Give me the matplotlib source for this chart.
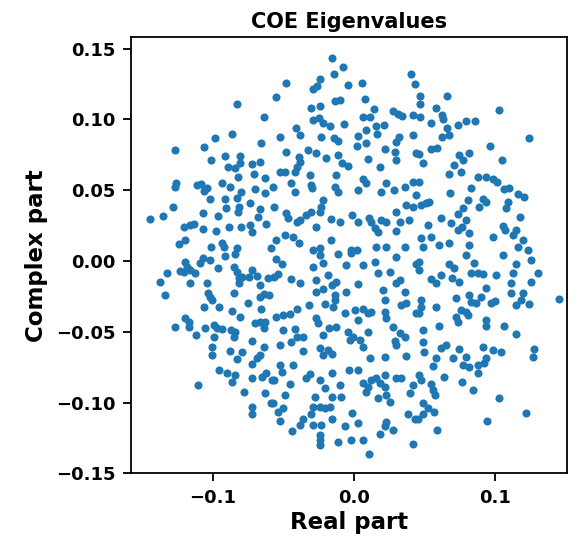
import matplotlib
matplotlib.use("Agg")
import matplotlib.pyplot as plt

title = "COE Eigenvalues"
xlabel = "Real part"
ylabel = "Complex part"
xticks = [-0.1, 0.0, 0.1]
yticks = [-0.15, -0.10, -0.05, 0.00, 0.05, 0.10, 0.15]

# (real, imaginary) pairs
points = [
    (-0.0832, 0.1110), (-0.0634, 0.1014), (-0.0863, 0.0896), (-0.0983, 0.0872),
    (-0.0155, 0.1436), (-0.0077, 0.1367), (-0.0143, 0.1320), (-0.0483, 0.1254),
    (-0.0237, 0.1289), (-0.0289, 0.1214), (-0.0261, 0.1233), (-0.0041, 0.1245),
    (0.0058, 0.1256), (-0.0554, 0.1155), (0.0077, 0.1145), (-0.0133, 0.1131),
    (-0.0096, 0.1138), (-0.0306, 0.1079), (-0.0242, 0.1094), (0.0143, 0.1075),
    (0.0065, 0.1020), (0.0112, 0.1020), (0.0277, 0.1060), (0.0313, 0.1037),
    (0.0343, 0.1025), (0.0407, 0.1320), (0.0433, 0.1252), (0.0419, 0.1032),
    (-0.0289, 0.0997), (-0.0247, 0.1009), (-0.0218, 0.0973), (-0.0171, 0.0950),
    (-0.0072, 0.0966), (-0.0412, 0.0938), (-0.0379, 0.0891), (-0.0525, 0.0879),
    (-0.0230, 0.0879), (-0.0143, 0.0868), (-0.0112, 0.0844), (0.0029, 0.0884),
    (0.0088, 0.0927), (0.0155, 0.0950), (0.0214, 0.0958), (0.0166, 0.0896),
    (0.0320, 0.0875), (0.0301, 0.0840), (0.0419, 0.0891),
    (0.0468, 0.1162), (0.0468, 0.1110), (0.0468, 0.1016), (0.0657, 0.1162),
    (0.0582, 0.1080), (0.0624, 0.1033), (0.0629, 0.1002), (0.0546, 0.0974),
    (0.0657, 0.0939), (0.0676, 0.0891), (0.0624, 0.0879), (0.0735, 0.0962),
    (0.0794, 0.0990), (0.0860, 0.0992), (0.1025, 0.1063), (0.1242, 0.0867),
    (-0.0656, 0.0832), (-0.1064, 0.0804), (-0.1265, 0.0785), (-0.1013, 0.0714),
    (-0.0916, 0.0745), (-0.0805, 0.0743), (-0.0895, 0.0667), (-0.0845, 0.0656),
    (-0.0810, 0.0691), (-0.0722, 0.0686), (-0.0663, 0.0696), (-0.0821, 0.0596),
    (-0.0710, 0.0613), (-0.0628, 0.0589), (-0.1260, 0.0554), (-0.1265, 0.0519),
    (-0.1111, 0.0537), (-0.1083, 0.0542), (-0.1064, 0.0497), (-0.1041, 0.0514),
    (-0.0935, 0.0554), (-0.0880, 0.0526), (-0.0798, 0.0490), (-0.0703, 0.0507),
    (-0.0628, 0.0478), (-0.1017, 0.0438), (-0.0911, 0.0436), (-0.0829, 0.0443),
    (-0.0734, 0.0412), (-0.0906, 0.0372), (-0.0817, 0.0384), (-0.0821, 0.0349),
    (-0.0668, 0.0365), (-0.0680, 0.0309), (-0.1282, 0.0384), (-0.1442, 0.0297),
    (-0.1352, 0.0318), (-0.1069, 0.0342), (-0.0965, 0.0321), (-0.1206, 0.0243),
    (-0.1164, 0.0255), (-0.1131, 0.0262), (-0.1072, 0.0224), (-0.0975, 0.0214),
    (-0.0887, 0.0238), (-0.0800, 0.0238), (-0.0734, 0.0255), (-0.0722, 0.0207),
    (-0.0621, 0.0259), (-0.1241, 0.0120), (-0.1194, 0.0149), (-0.1012, 0.0102),
    (-0.0935, 0.0130), (-0.0922, 0.0097), (-0.0827, 0.0089), (-0.0591, 0.0089),
    (-0.0483, 0.0773), (-0.0388, 0.0733), (-0.0379, 0.0696), (-0.0407, 0.0667),
    (-0.0419, 0.0632), (-0.0325, 0.0785), (-0.0266, 0.0766), (-0.0195, 0.0726),
    (-0.0112, 0.0750), (-0.0082, 0.0691), (-0.0041, 0.0672), (0.0022, 0.0809),
    (0.0100, 0.0719), (0.0183, 0.0667), (0.0218, 0.0790), (0.0289, 0.0773),
    (0.0301, 0.0714), (0.0442, 0.0762), (-0.0525, 0.0627), (-0.0490, 0.0632),
    (-0.0308, 0.0608), (-0.0301, 0.0537), (-0.0294, 0.0514), (-0.0129, 0.0608),
    (-0.0136, 0.0526), (-0.0112, 0.0490), (0.0029, 0.0502), (0.0065, 0.0578),
    (0.0088, 0.0549), (0.0195, 0.0490), (0.0230, 0.0549), (0.0284, 0.0502),
    (0.0360, 0.0519), (0.0419, 0.0561), (0.0442, 0.0467), (-0.0572, 0.0526),
    (-0.0443, 0.0549), (-0.0419, 0.0490), (-0.0218, 0.0431), (-0.0230, 0.0384),
    (-0.0242, 0.0349), (-0.0301, 0.0349), (-0.0341, 0.0325), (-0.0384, 0.0290),
    (-0.0407, 0.0278), (-0.0478, 0.0337), (-0.0466, 0.0301), (-0.0568, 0.0384),
    (-0.0100, 0.0278), (-0.0164, 0.0294), (-0.0266, 0.0242), (-0.0011, 0.0325),
    (0.0029, 0.0278), (0.0107, 0.0301), (0.0124, 0.0278), (0.0147, 0.0231),
    (0.0171, 0.0207), (0.0195, 0.0290), (0.0230, 0.0278), (0.0301, 0.0349),
    (0.0324, 0.0278), (0.0372, 0.0396), (0.0391, 0.0290), (0.0419, 0.0384),
    (0.0296, 0.0214), (-0.0549, 0.0148), (-0.0490, 0.0183), (-0.0431, 0.0172),
    (-0.0388, 0.0124), (-0.0289, 0.0077), (-0.0242, 0.0089), (-0.0166, 0.0148),
    (-0.0018, 0.0077), (0.0022, 0.0077), (0.0159, 0.0101), (0.0230, 0.0101),
    (0.0360, 0.0101), (0.0088, 0.0832),
    (0.0464, 0.0757), (0.0492, 0.0691), (0.0546, 0.0790), (0.0586, 0.0797),
    (0.0747, 0.0750), (0.0770, 0.0714), (0.0818, 0.0762), (0.0711, 0.0679),
    (0.0759, 0.0632), (0.0676, 0.0615), (0.0964, 0.0809), (0.1049, 0.0710),
    (0.0877, 0.0592), (0.0936, 0.0596), (0.0983, 0.0578), (0.1011, 0.0561),
    (0.0829, 0.0514), (0.0464, 0.0561), (0.0681, 0.0478), (0.1065, 0.0507),
    (0.1101, 0.0514), (0.1160, 0.0474), (0.1207, 0.0455), (0.0806, 0.0431),
    (0.0912, 0.0436), (0.0936, 0.0419), (0.0884, 0.0384), (0.1089, 0.0419),
    (0.1077, 0.0372), (0.0475, 0.0396), (0.0511, 0.0408), (0.0534, 0.0419),
    (0.0770, 0.0372), (0.0735, 0.0332), (0.0794, 0.0290), (0.0688, 0.0271),
    (0.0617, 0.0301), (0.0523, 0.0254), (0.1176, 0.0309), (0.1058, 0.0247),
    (0.1072, 0.0219), (0.1124, 0.0183), (0.1148, 0.0219), (0.1195, 0.0148),
    (0.0988, 0.0172), (0.0735, 0.0219), (0.0766, 0.0238), (0.0818, 0.0195),
    (0.0475, 0.0160), (0.0546, 0.0172), (0.0600, 0.0113), (0.0676, 0.0129),
    (0.0487, 0.0101), (0.0818, 0.0113), (0.1160, 0.0101), (0.1231, 0.0077),
    (-0.1194, -0.0005), (-0.1183, -0.0040), (-0.1088, -0.0012), (-0.1069, 0.0019),
    (-0.1022, 0.0007), (-0.1230, -0.0068), (-0.1206, -0.0075), (-0.1159, -0.0064),
    (-0.1124, -0.0087), (-0.1324, -0.0087), (-0.1376, -0.0151), (-0.1159, -0.0158),
    (-0.1336, -0.0241), (-0.0965, -0.0052), (-0.0911, 0.0036), (-0.0852, -0.0040),
    (-0.0840, 0.0050), (-0.0829, -0.0075), (-0.0817, -0.0123), (-0.0793, -0.0111),
    (-0.0746, -0.0111), (-0.0722, -0.0064), (-0.0687, -0.0106), (-0.0663, -0.0170),
    (-0.0612, -0.0123), (-0.1041, -0.0158), (-0.1036, -0.0229), (-0.1017, -0.0252),
    (-0.1006, -0.0276), (-0.0848, -0.0229), (-0.0817, -0.0158), (-0.0663, -0.0252),
    (-0.0640, -0.0236), (-0.0604, -0.0241), (-0.0753, -0.0300), (-0.1065, -0.0328),
    (-0.0958, -0.0323), (-0.0864, -0.0352), (-0.0805, -0.0394), (-0.0659, -0.0342),
    (-0.1265, -0.0465), (-0.1194, -0.0406), (-0.1171, -0.0429), (-0.1171, -0.0465),
    (-0.1117, -0.0524), (-0.1053, -0.0477), (-0.0989, -0.0453), (-0.0970, -0.0477),
    (-0.0935, -0.0484), (-0.0994, -0.0536), (-0.0871, -0.0488), (-0.0840, -0.0500),
    (-0.0852, -0.0536), (-0.0699, -0.0441), (-0.0663, -0.0429), (-0.0628, -0.0429),
    (-0.0640, -0.0477), (-0.0722, -0.0564), (-0.1006, -0.0606), (-0.0876, -0.0635),
    (-0.0793, -0.0642), (-0.1006, -0.0665), (-0.0829, -0.0696), (-0.0687, -0.0689),
    (-0.0663, -0.0665), (-0.0640, -0.0606),
    (-0.0549, 0.0012), (-0.0513, -0.0021), (-0.0537, -0.0092), (-0.0568, -0.0111),
    (-0.0443, -0.0130), (-0.0384, -0.0153), (-0.0289, -0.0040), (-0.0218, -0.0012),
    (-0.0242, 0.0043), (-0.0266, -0.0134), (-0.0183, -0.0099), (-0.0159, -0.0170),
    (-0.0129, -0.0146), (-0.0112, 0.0050), (-0.0018, 0.0054), (-0.0053, -0.0028),
    (0.0065, -0.0028), (0.0147, -0.0005), (0.0301, 0.0026), (0.0171, -0.0087),
    (0.0254, -0.0075), (0.0296, -0.0153), (0.0329, -0.0134), (0.0442, -0.0021),
    (-0.0266, -0.0217), (-0.0218, -0.0200), (-0.0136, -0.0241), (-0.0136, -0.0276),
    (-0.0148, -0.0323), (-0.0053, -0.0217), (0.0029, -0.0165), (0.0206, -0.0205),
    (0.0218, -0.0276), (0.0360, -0.0217), (0.0372, -0.0300), (0.0336, -0.0311),
    (0.0442, -0.0370), (-0.0549, -0.0394), (-0.0502, -0.0382), (-0.0454, -0.0375),
    (-0.0407, -0.0342), (-0.0318, -0.0311), (-0.0207, -0.0304), (-0.0065, -0.0370),
    (0.0006, -0.0347), (0.0029, -0.0418), (0.0065, -0.0342), (0.0100, -0.0370),
    (0.0124, -0.0359), (0.0218, -0.0359), (0.0230, -0.0406), (-0.0266, -0.0406),
    (-0.0254, -0.0441), (-0.0176, -0.0477), (-0.0129, -0.0470), (-0.0502, -0.0488),
    (-0.0419, -0.0484), (-0.0407, -0.0536), (-0.0360, -0.0540), (-0.0218, -0.0524),
    (-0.0041, -0.0500), (-0.0030, -0.0559), (-0.0006, -0.0536), (0.0041, -0.0559),
    (0.0065, -0.0606), (0.0100, -0.0500), (0.0277, -0.0465), (0.0324, -0.0507),
    (0.0360, -0.0536), (0.0289, -0.0564), (0.0301, -0.0595), (-0.0525, -0.0595),
    (-0.0443, -0.0571), (-0.0360, -0.0635), (-0.0242, -0.0618), (-0.0218, -0.0665),
    (-0.0183, -0.0630), (-0.0159, -0.0654), (0.0112, -0.0689), (0.0218, -0.0682),
    (0.0372, -0.0673),
    (0.0464, -0.0005), (0.0464, -0.0064), (0.0546, -0.0130), (0.0582, -0.0158),
    (0.0617, -0.0099), (0.0676, -0.0021), (0.0711, -0.0052), (0.0695, -0.0123),
    (0.0747, -0.0146), (0.0794, 0.0043), (0.0853, -0.0012), (0.0829, -0.0087),
    (0.0877, -0.0082), (0.0912, -0.0092), (0.1006, -0.0099), (0.1058, 0.0043),
    (0.1148, -0.0021), (0.1124, -0.0087), (0.1254, 0.0007), (0.1301, -0.0082),
    (0.1254, -0.0146), (0.1113, -0.0158), (0.1113, -0.0229), (0.1195, -0.0229),
    (0.1183, -0.0276), (0.1148, -0.0311), (0.1242, -0.0304), (0.1455, -0.0271),
    (0.0723, -0.0264), (0.0818, -0.0241), (0.0829, -0.0288), (0.0865, -0.0300),
    (0.0900, -0.0252), (0.0936, -0.0193), (0.0971, -0.0300), (0.1002, -0.0281),
    (0.0475, -0.0276), (0.0475, -0.0323), (0.0464, -0.0370), (0.0582, -0.0323),
    (0.0759, -0.0347), (0.0794, -0.0359), (0.0806, -0.0382), (0.0723, -0.0394),
    (0.0735, -0.0429), (0.0936, -0.0418), (0.0936, -0.0460), (0.1065, -0.0460),
    (0.1148, -0.0517), (0.0487, -0.0488), (0.0600, -0.0460), (0.0487, -0.0571),
    (0.0499, -0.0642), (0.0617, -0.0618), (0.0652, -0.0595), (0.0747, -0.0625),
    (0.0912, -0.0606), (0.0983, -0.0630), (0.1042, -0.0642), (0.1278, -0.0625),
    (0.1266, -0.0677), (0.0582, -0.0689), (0.0700, -0.0689), (0.0794, -0.0677),
    (0.0936, -0.0689),
    (-0.1107, -0.0877), (-0.0958, -0.0771), (-0.0899, -0.0794), (-0.0840, -0.0806),
    (-0.0864, -0.0853), (-0.0722, -0.0728), (-0.0722, -0.0830), (-0.0777, -0.0924),
    (-0.0722, -0.1030), (-0.0722, -0.1078), (-0.0652, -0.0818), (-0.0621, -0.0794),
    (-0.0628, -0.0936), (-0.0588, -0.1007), (-0.0581, -0.0842),
    (-0.0525, -0.0735), (-0.0513, -0.0783), (-0.0431, -0.0735), (-0.0568, -0.0842),
    (-0.0450, -0.0870), (-0.0490, -0.0948), (-0.0572, -0.1007), (-0.0537, -0.1066),
    (-0.0502, -0.1042), (-0.0525, -0.1132), (-0.0436, -0.1203), (-0.0379, -0.1160),
    (-0.0360, -0.1113), (-0.0301, -0.1078), (-0.0289, -0.1030), (-0.0277, -0.0964),
    (-0.0242, -0.1030), (-0.0207, -0.1042), (-0.0171, -0.1035), (-0.0242, -0.0842),
    (-0.0207, -0.0901), (-0.0159, -0.0960), (-0.0089, -0.0960), (-0.0096, -0.0877),
    (-0.0152, -0.0790), (-0.0341, -0.0830), (-0.0313, -0.0799), (-0.0034, -0.0771),
    (0.0029, -0.0771), (-0.0159, -0.1113), (-0.0289, -0.1160), (-0.0230, -0.1160),
    (-0.0242, -0.1231), (-0.0237, -0.1266), (-0.0242, -0.1302), (-0.0065, -0.1167),
    (-0.0011, -0.1073), (0.0029, -0.1148), (-0.0018, -0.1262), (0.0065, -0.1262),
    (0.0107, -0.1366), (-0.0112, -0.1278), (0.0065, -0.0865), (0.0100, -0.0889),
    (0.0088, -0.0924), (0.0124, -0.0842), (0.0159, -0.0830), (0.0218, -0.0806),
    (0.0183, -0.0865), (0.0218, -0.0889), (0.0171, -0.0971), (0.0230, -0.0948),
    (0.0254, -0.0995), (0.0301, -0.0830), (0.0336, -0.0830), (0.0419, -0.0877),
    (0.0400, -0.0936), (0.0230, -0.1137), (0.0218, -0.1167), (0.0183, -0.1219),
    (0.0277, -0.1196), (0.0383, -0.1078), (0.0431, -0.1113), (0.0419, -0.1290),
    (0.0558, -0.0742), (0.0770, -0.0735), (0.0818, -0.0747), (0.0877, -0.0735),
    (0.0924, -0.0724), (0.0877, -0.0794), (0.0464, -0.0806), (0.0475, -0.0842),
    (0.0546, -0.0870), (0.0558, -0.0912), (0.0577, -0.0948), (0.0641, -0.0818),
    (0.0766, -0.0853), (0.0841, -0.0912), (0.1025, -0.0971), (0.1219, -0.1073),
    (0.0943, -0.1132), (0.0586, -0.1191), (0.0487, -0.1007), (0.0523, -0.1042),
    (0.0570, -0.1066), (0.0487, -0.1078), (0.0452, -0.1113),
]
real_part = [p[0] for p in points]
imag_part = [p[1] for p in points]

fig = plt.figure(figsize=(5.84, 5.44), dpi=100)
ax = fig.add_axes([0.2243, 0.1300, 0.7466, 0.8014])
ax.scatter(real_part, imag_part, s=34, color="#1f77b4", linewidths=0)
ax.set_xlim(-0.158, 0.151)
ax.set_ylim(-0.150, 0.158)
ax.set_xticks(xticks)
ax.set_yticks(yticks)
ax.set_xticklabels(["\u22120.1", "0.0", "0.1"], fontweight="bold", fontsize=13)
ax.set_yticklabels(["\u22120.15", "\u22120.10", "\u22120.05", "0.00", "0.05", "0.10", "0.15"],
                   fontweight="bold", fontsize=13)
ax.tick_params(length=6, width=1.3, pad=5)
for sp in ax.spines.values():
    sp.set_linewidth(1.3)
ax.set_xlabel(xlabel, fontsize=16.5, fontweight="bold", labelpad=3)
ax.set_ylabel(ylabel, fontsize=16.5, fontweight="bold", labelpad=6)
ax.set_title(title, fontsize=15, fontweight="bold", pad=7)
fig.savefig("out.png", dpi=100)
